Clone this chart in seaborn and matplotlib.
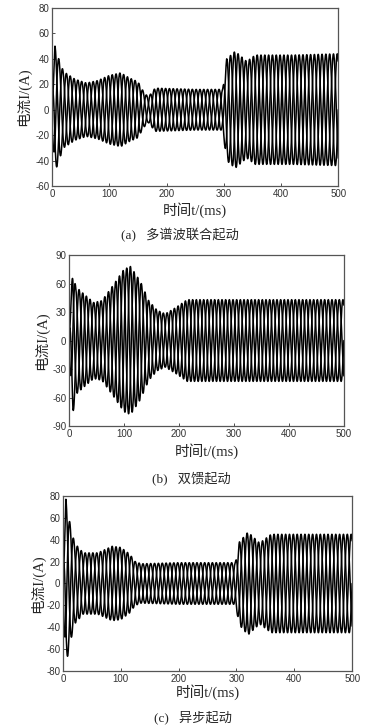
import numpy as np
import matplotlib
matplotlib.use("Agg")
import matplotlib.pyplot as plt
import seaborn as sns

sns.set_style("ticks")
plt.rcParams['font.family'] = ['Liberation Serif', 'Noto Sans CJK SC', 'DejaVu Sans']
plt.rcParams['axes.unicode_minus'] = False

# 三相电流, 50Hz, 包络线关键点
FREQ_HZ = 50
PHASES = [0.0, -2 * np.pi / 3, 2 * np.pi / 3]

# (a) 多谱波联合起动
env_a_t = [0, 5, 10, 20, 40, 60, 80, 100, 120, 135, 150, 160, 168, 180, 250, 298, 305, 320, 340, 355, 420, 500]
env_a_v = [15, 50, 42, 30, 24, 21, 23, 27, 29, 25, 22, 14, 10, 17, 16, 16, 40, 46, 38, 43, 43, 44]
# (b) 双馈起动
env_b_t = [0, 7, 12, 25, 45, 60, 80, 100, 112, 130, 145, 160, 175, 195, 215, 300, 500]
env_b_v = [10, 78, 57, 50, 40, 42, 58, 75, 78, 62, 42, 32, 28, 35, 43, 43, 43]
# (c) 异步起动
env_c_t = [0, 5, 10, 20, 35, 60, 85, 100, 115, 125, 135, 200, 298, 305, 320, 340, 360, 500]
env_c_v = [15, 77, 60, 37, 28, 28, 34, 33, 27, 20, 18, 19, 19, 38, 47, 37, 45, 45]

panels = [
    dict(env_t=env_a_t, env_v=env_a_v, ylim=(-60, 80), yticks=np.arange(-60, 81, 20),
         caption="(a)   多谱波联合起动", rect=[0.139, 0.7445, 0.763, 0.2445],
         xlab_y=0.711, cap_y=0.677, ylab_x=0.062),
    dict(env_t=env_b_t, env_v=env_b_v, ylim=(-90, 90), yticks=np.arange(-90, 91, 30),
         caption="(b)   双馈起动", rect=[0.184, 0.4148, 0.733, 0.2349],
         xlab_y=0.381, cap_y=0.343, ylab_x=0.112),
    dict(env_t=env_c_t, env_v=env_c_v, ylim=(-80, 80), yticks=np.arange(-80, 81, 20),
         caption="(c)   异步起动", rect=[0.168, 0.0783, 0.771, 0.2404],
         xlab_y=0.049, cap_y=0.014, ylab_x=0.099),
]

t = np.linspace(0, 500, 6001)

fig = plt.figure(figsize=(3.75, 7.28), dpi=100)

for p in panels:
    ax = fig.add_axes(p["rect"])
    env = np.interp(t, p["env_t"], p["env_v"])
    for ph in PHASES:
        i_ph = env * np.sin(2 * np.pi * FREQ_HZ * t / 1000 + ph)
        sns.lineplot(x=t, y=i_ph, ax=ax, color="black", linewidth=1.1)
    ax.set_xlim(0, 500)
    ax.set_ylim(*p["ylim"])
    ax.set_xticks(np.arange(0, 501, 100))
    ax.set_yticks(p["yticks"])
    ax.tick_params(direction="in", length=2.5, width=0.6, labelsize=7,
                   colors="#333333", pad=2)
    for lab in ax.get_xticklabels() + ax.get_yticklabels():
        lab.set_family(["Liberation Sans", "DejaVu Sans"])
    for s in ax.spines.values():
        s.set_visible(True)
        s.set_color("#555555")
        s.set_linewidth(0.9)
    ax.set_xlabel("")
    ax.set_ylabel("")
    # 坐标轴标签
    x0 = p["rect"][0] + p["rect"][2] / 2
    fig.text(x0, p["xlab_y"], "时间t/(ms)", ha="center", va="center", fontsize=10.5)
    fig.text(p["ylab_x"], p["rect"][1] + p["rect"][3] / 2, "电流I/(A)",
             ha="center", va="center", rotation=90, fontsize=10.5)
    fig.text(x0 - 0.04, p["cap_y"], p["caption"], ha="center", va="center", fontsize=9.5)

fig.savefig("out.png", dpi=100)
